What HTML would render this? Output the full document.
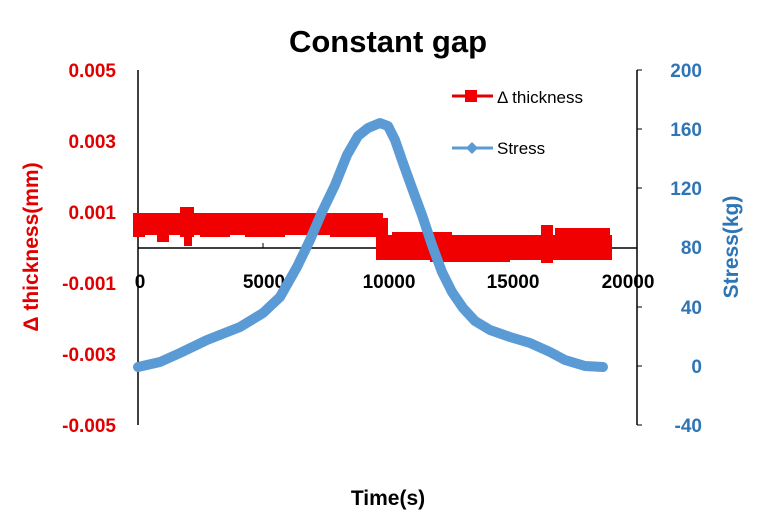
<!DOCTYPE html>
<html><head><meta charset="utf-8"><style>
body{margin:0;background:#fff}
svg text{font-family:"Liberation Sans",sans-serif;font-weight:bold}
</style></head><body>
<svg width="776" height="522" viewBox="0 0 776 522" xmlns="http://www.w3.org/2000/svg">
<text x="388" y="52" font-size="31" text-anchor="middle" fill="#000">Constant gap</text>
<line x1="138" y1="70" x2="138" y2="425" stroke="#000" stroke-width="1.5"/>
<line x1="637" y1="70" x2="637" y2="425" stroke="#000" stroke-width="1.5"/>
<line x1="138" y1="248" x2="637" y2="248" stroke="#000" stroke-width="1.5"/>
<g stroke="#000" stroke-width="1">
<line x1="263" y1="243" x2="263" y2="248"/><line x1="387" y1="243" x2="387" y2="248"/><line x1="512" y1="243" x2="512" y2="248"/>
<line x1="637" y1="70" x2="642" y2="70"/><line x1="637" y1="129" x2="642" y2="129"/><line x1="637" y1="188" x2="642" y2="188"/><line x1="637" y1="307" x2="642" y2="307"/><line x1="637" y1="366" x2="642" y2="366"/><line x1="637" y1="425" x2="642" y2="425"/>
</g>
<g font-size="19" fill="#e00000" text-anchor="end">
<text x="116" y="77">0.005</text><text x="116" y="148">0.003</text><text x="116" y="219">0.001</text>
<text x="116" y="290">-0.001</text><text x="116" y="361">-0.003</text><text x="116" y="432">-0.005</text>
</g>
<g font-size="19" fill="#2e75b6" text-anchor="end">
<text x="702" y="77">200</text><text x="702" y="136">160</text><text x="702" y="195">120</text><text x="702" y="254">80</text>
<text x="702" y="314">40</text><text x="702" y="373">0</text><text x="702" y="432">-40</text>
</g>
<g font-size="19" fill="#000" text-anchor="middle">
<text x="140" y="288">0</text><text x="264" y="288">5000</text><text x="389" y="288">10000</text><text x="513" y="288">15000</text><text x="628" y="288">20000</text>
</g>
<text x="388" y="505" font-size="21" text-anchor="middle" fill="#000">Time(s)</text>
<text transform="translate(38,247) rotate(-90)" font-size="21" text-anchor="middle" fill="#e00000">Δ thickness(mm)</text>
<text transform="translate(738,247) rotate(-90)" font-size="21" text-anchor="middle" fill="#2e75b6">Stress(kg)</text>
<g fill="#f00000">
<rect x="133" y="213" width="250" height="22"/>
<rect x="133" y="222" width="12" height="15"/>
<rect x="157" y="216" width="12" height="26"/>
<rect x="180" y="207" width="14" height="30"/>
<rect x="184" y="230" width="8" height="16"/>
<rect x="200" y="225" width="30" height="12"/>
<rect x="245" y="225" width="40" height="12"/>
<rect x="330" y="225" width="50" height="12"/>
<rect x="376" y="218" width="12" height="42"/>
<rect x="380" y="235" width="232" height="25"/>
<rect x="392" y="232" width="60" height="10"/>
<rect x="430" y="240" width="80" height="22"/>
<rect x="520" y="238" width="30" height="22"/>
<rect x="541" y="225" width="12" height="38"/>
<rect x="555" y="228" width="55" height="22"/>
</g>
<polyline fill="none" stroke="#5b9bd5" stroke-width="10" stroke-linejoin="round" stroke-linecap="round"
points="138,367 160,362 180,353 207,340 240,327 263,313 280,297 297,267 310,240 322,212 335,185 347,155 358,136 368,128 380,123 388,126 395,140 403,163 412,188 422,215 432,245 442,272 452,292 463,308 475,321 490,330 510,337 530,343 550,352 565,360 585,366 603,367"/>
<line x1="452" y1="96" x2="493" y2="96" stroke="#e00000" stroke-width="3"/>
<rect x="465" y="90" width="12" height="12" fill="#f00000"/>
<text x="497" y="103" font-size="17" style="font-weight:normal" fill="#000">Δ thickness</text>
<line x1="452" y1="148" x2="493" y2="148" stroke="#5b9bd5" stroke-width="3"/>
<polygon points="472,142 478,148 472,154 466,148" fill="#5b9bd5"/>
<text x="497" y="154" font-size="17" style="font-weight:normal" fill="#000">Stress</text>
</svg>
</body></html>
